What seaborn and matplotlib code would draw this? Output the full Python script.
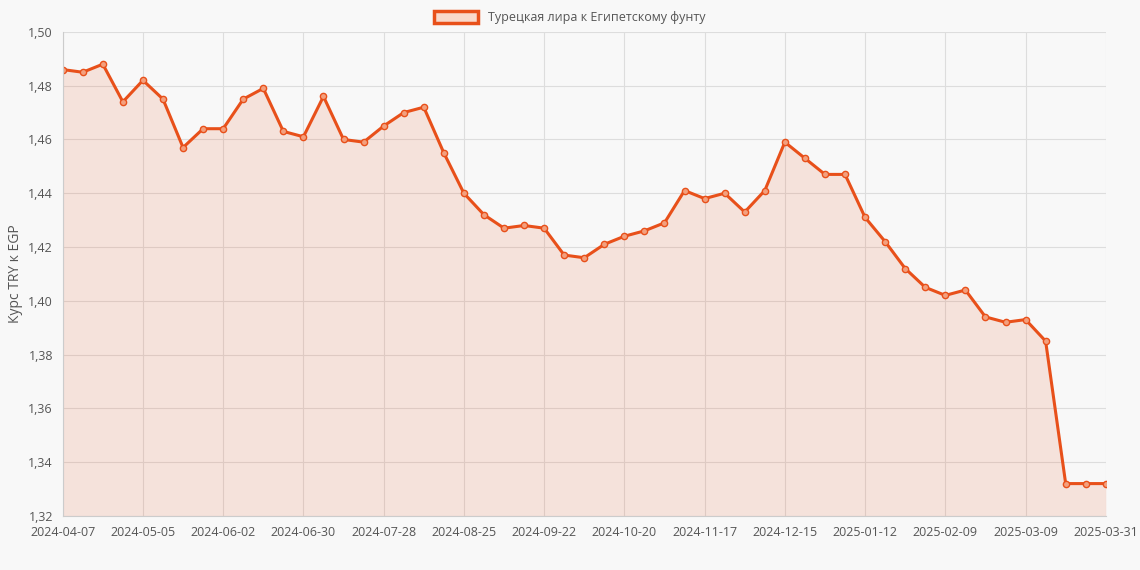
import pandas as pd
import numpy as np
import matplotlib.pyplot as plt
import seaborn as sns
from matplotlib.patches import Patch
from matplotlib.ticker import FuncFormatter

# weekly dates, last point labelled 2025-03-31
dates = [d.strftime('%Y-%m-%d') for d in pd.date_range('2024-04-07', periods=52, freq='7D')] + ['2025-03-31']
rates = [1.486, 1.485, 1.488, 1.474, 1.482, 1.475, 1.457, 1.464, 1.464, 1.475,
         1.479, 1.463, 1.461, 1.476, 1.460, 1.459, 1.465, 1.470, 1.472, 1.455,
         1.440, 1.432, 1.427, 1.428, 1.427, 1.417, 1.416, 1.421, 1.424, 1.426,
         1.429, 1.441, 1.438, 1.440, 1.433, 1.441, 1.459, 1.453, 1.447, 1.447,
         1.431, 1.422, 1.412, 1.405, 1.402, 1.404, 1.394, 1.392, 1.393, 1.385,
         1.332, 1.332, 1.332]
label = 'Турецкая лира к Египетскому фунту'

df = pd.DataFrame({'i': np.arange(len(dates)), 'rate': rates})
color = '#e8501a'
bg = '#f8f8f8'

sns.set_style('whitegrid')
plt.rcParams['font.family'] = ['Open Sans', 'DejaVu Sans']

fig, ax = plt.subplots(figsize=(11.4, 5.7), dpi=100)
fig.patch.set_facecolor(bg)
ax.set_facecolor(bg)

ax.fill_between(df['i'], df['rate'], 1.32, color=color, alpha=0.13, linewidth=0)
sns.lineplot(data=df, x='i', y='rate', ax=ax, color=color, linewidth=2.2,
             marker='o', markersize=4.5, markerfacecolor='#f3a07e', markeredgecolor=color,
             markeredgewidth=1)

ticks = list(range(0, 49, 4)) + [52]
ax.set_xticks(ticks)
ax.set_xticklabels([dates[t] for t in ticks], fontsize=9, color='#555555')
ax.set_xlim(0, 52)
ax.set_ylim(1.32, 1.50)
ax.set_yticks(np.arange(1.32, 1.501, 0.02))
ax.yaxis.set_major_formatter(FuncFormatter(lambda v, p: f'{v:.2f}'.replace('.', ',')))
ax.tick_params(axis='y', labelsize=9, colors='#555555')
ax.set_xlabel('')
ax.set_ylabel('Курс TRY к EGP', fontsize=10, color='#555555')
ax.grid(True, color='#dddddd', linewidth=0.8)
for s in ax.spines.values():
    s.set_visible(False)
ax.spines['left'].set_visible(True)
ax.spines['bottom'].set_visible(True)
ax.spines['left'].set_color('#cccccc')
ax.spines['bottom'].set_color('#cccccc')

handle = Patch(facecolor='#f9d9cb', edgecolor=color, linewidth=2.5, label=label)
fig.legend(handles=[handle], loc='upper center', bbox_to_anchor=(0.5, 1.0), frameon=False,
           fontsize=9, labelcolor='#555555', handlelength=3.5, handleheight=1.0)

plt.subplots_adjust(left=0.055, right=0.97, top=0.944, bottom=0.095)
plt.savefig('out.png', facecolor=bg)
